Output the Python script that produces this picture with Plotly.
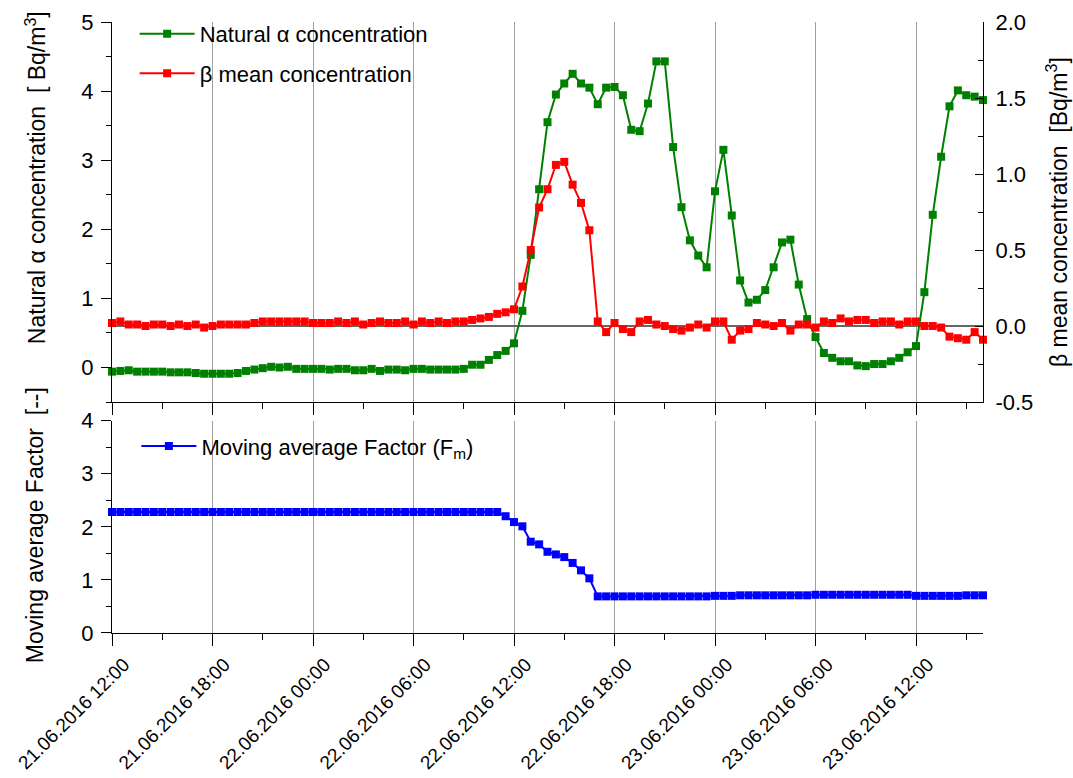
import pandas as pd
import plotly.graph_objects as go

# Half-hourly sampling times (alpha/beta series start one sample before the axis)
times_ab = pd.date_range("2016-06-21 11:30", "2016-06-23 16:00", freq="30min")
times_fm = pd.date_range("2016-06-21 12:00", "2016-06-23 16:00", freq="30min")

# Natural alpha concentration [Bq/m3]
alpha_conc = [
    -0.06, -0.06, -0.05, -0.04, -0.06, -0.06, -0.06, -0.06, -0.07, -0.07,
    -0.07, -0.08, -0.09, -0.09, -0.09, -0.09, -0.08, -0.05, -0.03, -0.01,
    0.01, 0.00, 0.01, -0.02, -0.02, -0.02, -0.02, -0.03, -0.02, -0.02,
    -0.04, -0.04, -0.02, -0.05, -0.03, -0.03, -0.04, -0.02, -0.02, -0.03,
    -0.03, -0.03, -0.03, -0.02, 0.04, 0.04, 0.11, 0.18, 0.24,
    0.35, 0.82, 1.63, 2.58, 3.55, 3.95, 4.11, 4.25, 4.11, 4.05,
    3.81, 4.05, 4.06, 3.94, 3.44, 3.42, 3.82, 4.43, 4.43, 3.19,
    2.32, 1.84, 1.62, 1.45, 2.55, 3.15, 2.20, 1.26, 0.94, 0.98,
    1.12, 1.45, 1.81, 1.85, 1.20, 0.70, 0.44, 0.21, 0.14, 0.09,
    0.09, 0.03, 0.02, 0.05, 0.05, 0.09, 0.14, 0.22, 0.31, 1.09,
    2.21, 3.05, 3.78, 4.01, 3.94, 3.92, 3.87,
]

# Beta mean concentration [Bq/m3]
beta_conc = [
    0.02, 0.02, 0.03, 0.01, 0.01, 0.00, 0.01, 0.01, 0.00, 0.01,
    0.00, 0.01, -0.01, 0.00, 0.01, 0.01, 0.01, 0.01, 0.02, 0.03,
    0.03, 0.03, 0.03, 0.03, 0.03, 0.02, 0.02, 0.02, 0.03, 0.02,
    0.03, 0.01, 0.02, 0.03, 0.02, 0.02, 0.03, 0.01, 0.03, 0.02,
    0.03, 0.02, 0.03, 0.03, 0.04, 0.05, 0.06, 0.08, 0.09,
    0.11, 0.26, 0.50, 0.78, 0.90, 1.06, 1.08, 0.93, 0.81, 0.63,
    0.03, -0.04, 0.02, -0.02, -0.04, 0.03, 0.04, 0.01, 0.00, -0.02,
    -0.03, -0.01, 0.01, -0.01, 0.03, 0.03, -0.09, -0.03, -0.02, 0.02,
    0.01, 0.00, 0.02, -0.03, 0.01, 0.01, -0.01, 0.03, 0.02, 0.05,
    0.03, 0.04, 0.04, 0.02, 0.03, 0.03, 0.01, 0.03, 0.03, 0.00,
    0.00, -0.01, -0.07, -0.08, -0.09, -0.04, -0.09,
]

# Moving average factor F_m [-]
fm_factor = [
    2.28, 2.28, 2.28, 2.28, 2.28, 2.28, 2.28, 2.28, 2.28, 2.28,
    2.28, 2.28, 2.28, 2.28, 2.28, 2.28, 2.28, 2.28, 2.28, 2.28,
    2.28, 2.28, 2.28, 2.28, 2.28, 2.28, 2.28, 2.28, 2.28, 2.28,
    2.28, 2.28, 2.28, 2.28, 2.28, 2.28, 2.28, 2.28, 2.28, 2.28,
    2.28, 2.28, 2.28, 2.28, 2.28, 2.28, 2.28,
    2.20, 2.09, 2.01, 1.72, 1.67, 1.53, 1.48, 1.43, 1.32, 1.18, 1.03,
    0.69, 0.69, 0.69, 0.69, 0.69, 0.69, 0.69, 0.69, 0.69, 0.69,
    0.69, 0.69, 0.69, 0.69, 0.70, 0.70, 0.70,
    0.71, 0.71, 0.71, 0.71, 0.71, 0.71, 0.71, 0.71, 0.71,
    0.72, 0.72, 0.72, 0.72, 0.72, 0.72, 0.72, 0.72, 0.72, 0.72, 0.72, 0.72,
    0.70, 0.70, 0.70, 0.70, 0.70, 0.70,
    0.71, 0.71, 0.71,
]

# Time axis ticks
tick_times = [
    "2016-06-21 12:00", "2016-06-21 18:00", "2016-06-22 00:00",
    "2016-06-22 06:00", "2016-06-22 12:00", "2016-06-22 18:00",
    "2016-06-23 00:00", "2016-06-23 06:00", "2016-06-23 12:00",
]
tick_labels = [
    "21.06.2016 12:00", "21.06.2016 18:00", "22.06.2016 00:00",
    "22.06.2016 06:00", "22.06.2016 12:00", "22.06.2016 18:00",
    "23.06.2016 00:00", "23.06.2016 06:00", "23.06.2016 12:00",
]
x_range = ["2016-06-21 12:00", "2016-06-23 16:00"]

alpha_ticks = [0, 1, 2, 3, 4, 5]
beta_ticks = [-0.5, 0.0, 0.5, 1.0, 1.5, 2.0]
beta_tick_labels = ["-0.5", "0.0", "0.5", "1.0", "1.5", "2.0"]
fm_ticks = [0, 1, 2, 3, 4]

FONT = "Liberation Sans, Arial, sans-serif"
GREEN, RED, BLUE = "#008000", "#ff0000", "#0000ff"
HOUR_MS = 3600 * 1000

fig = go.Figure()
fig.add_trace(go.Scatter(
    x=times_ab, y=alpha_conc, mode="lines+markers",
    name="Natural α concentration",
    line=dict(color=GREEN, width=2),
    marker=dict(symbol="square", size=8, color=GREEN),
    xaxis="x", yaxis="y", cliponaxis=False,
    legend="legend", legendgroup="alpha",
))
fig.add_trace(go.Scatter(
    x=times_ab, y=beta_conc, mode="lines+markers",
    name="β mean concentration",
    line=dict(color=RED, width=2),
    marker=dict(symbol="square", size=8, color=RED),
    xaxis="x", yaxis="y2", cliponaxis=False,
    legend="legend", legendgroup="beta",
))
fig.add_trace(go.Scatter(
    x=times_fm, y=fm_factor, mode="lines+markers",
    name="Moving average Factor (F<sub>m</sub>)",
    line=dict(color=BLUE, width=2),
    marker=dict(symbol="square", size=8, color=BLUE),
    xaxis="x2", yaxis="y3", cliponaxis=False,
    legend="legend2",
))

x_common = dict(
    type="date", range=x_range, automargin=False,
    tickmode="array", tickvals=tick_times, ticktext=tick_labels,
    showgrid=True, gridcolor="#a0a0a0", gridwidth=1,
    showline=True, linecolor="black", linewidth=1,
    ticks="outside", ticklen=12, tickcolor="black", tickwidth=1,
    minor=dict(tick0="2016-06-21 12:00", dtick=3 * HOUR_MS, ticks="outside",
               ticklen=6, tickcolor="black", showgrid=False),
    zeroline=False,
)

y_common = dict(
    automargin=False, showgrid=False, zeroline=False,
    showline=True, linecolor="black", linewidth=1,
    ticks="outside", ticklen=10, tickcolor="black", tickwidth=1,
    ticklabelstandoff=3,
    tickfont=dict(size=22, color="black"),
)

fig.update_layout(
    width=1073, height=778,
    margin=dict(l=112, r=90, t=22, b=145, autoexpand=False),
    paper_bgcolor="white", plot_bgcolor="white",
    font=dict(family=FONT, color="black", size=22),
    xaxis=dict(x_common, domain=[0, 1], anchor="y", showticklabels=False),
    xaxis2=dict(x_common, domain=[0, 1], anchor="y3", matches="x",
                showticklabels=True, tickangle=-45, ticklabelshift=12,
                tickfont=dict(size=19, color="black")),
    yaxis=dict(y_common, domain=[0.378, 1], anchor="x", range=[-0.5, 5],
               tickmode="array", tickvals=alpha_ticks,
               minor=dict(tick0=0, dtick=0.5, ticks="outside", ticklen=5,
                          tickcolor="black", showgrid=False)),
    yaxis2=dict(y_common, overlaying="y", side="right", anchor="x",
                range=[-0.5, 2.0], tickmode="array", tickvals=beta_ticks,
                ticktext=beta_tick_labels, ticks="inside", ticklen=8,
                ticklabelstandoff=7,
                zeroline=True, zerolinecolor="#666666", zerolinewidth=1.5,
                minor=dict(tick0=0, dtick=0.25, ticks="inside", ticklen=5,
                           tickcolor="black", showgrid=False)),
    yaxis3=dict(y_common, domain=[0, 0.3475], anchor="x2", range=[0, 4],
                tickmode="array", tickvals=fm_ticks,
                minor=dict(tick0=0, dtick=0.5, ticks="outside", ticklen=5,
                           tickcolor="black", showgrid=False)),
    legend=dict(x=0.026, y=1.015, xanchor="left", yanchor="top",
                bgcolor="rgba(0,0,0,0)", font=dict(size=22, family=FONT),
                traceorder="grouped", tracegroupgap=8, itemwidth=55),
    legend2=dict(x=0.028, y=0.340, xanchor="left", yanchor="top",
                 bgcolor="rgba(0,0,0,0)", font=dict(size=22, family=FONT),
                 itemwidth=55),
    showlegend=True,
)

# Rotated axis titles
title_font = dict(size=23, family=FONT, color="black")
fig.add_annotation(text="Natural α concentration\u00a0\u00a0[ Bq/m<sup>3</sup>]",
                   xref="paper", yref="paper", x=-0.088, y=0.745,
                   xanchor="center", yanchor="middle", textangle=-90,
                   showarrow=False, font=title_font)
fig.add_annotation(text="β mean concentration\u00a0\u00a0[Bq/m<sup>3</sup>]",
                   xref="paper", yref="paper", x=1.085, y=0.689,
                   xanchor="center", yanchor="middle", textangle=-90,
                   showarrow=False, font=title_font)
fig.add_annotation(text="Moving average Factor\u00a0\u00a0[--]",
                   xref="paper", yref="paper", x=-0.088, y=0.177,
                   xanchor="center", yanchor="middle", textangle=-90,
                   showarrow=False, font=title_font)

fig.write_html("out.html")
